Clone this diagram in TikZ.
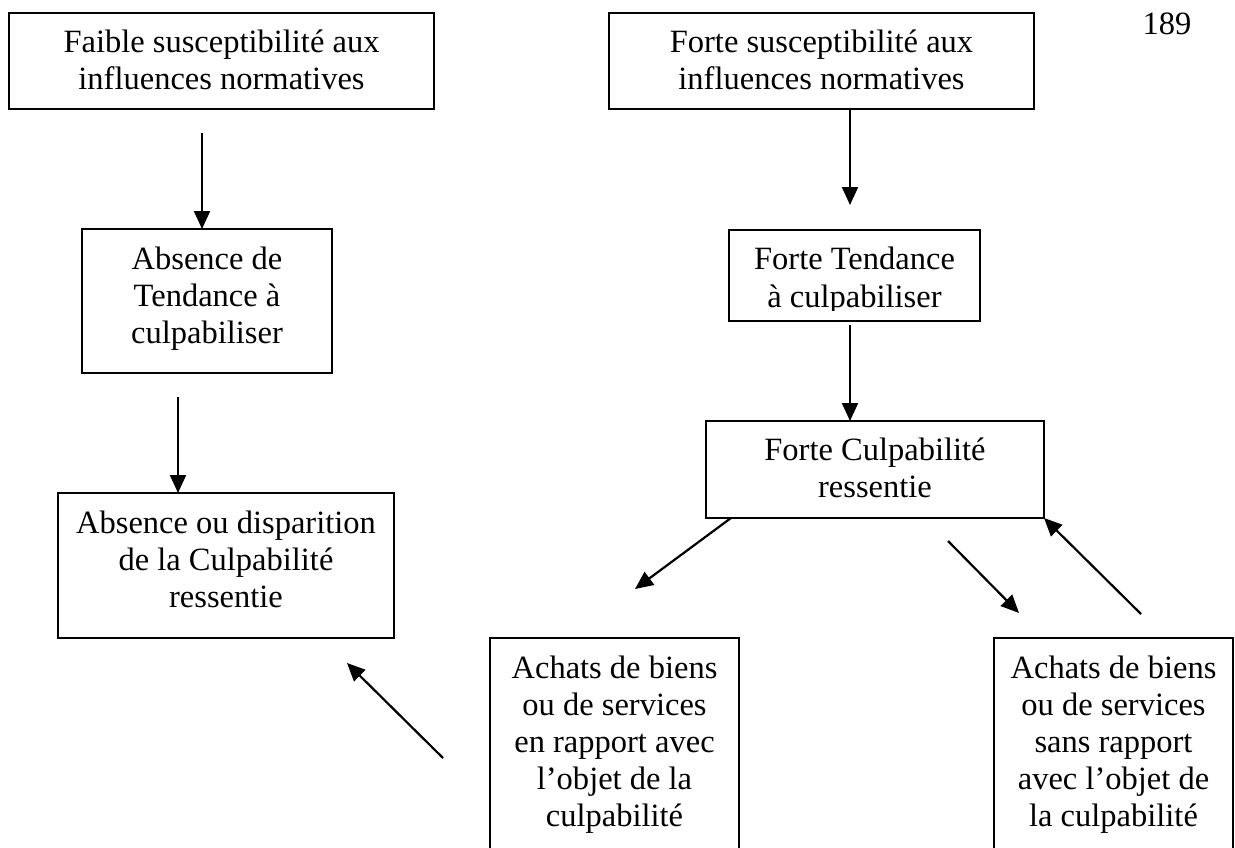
\documentclass[tikz,border=0pt]{standalone}
\usepackage{fontspec}
\setmainfont{Liberation Serif}
\usetikzlibrary{arrows.meta,fit}
\tikzset{
  boxnode/.style={draw, line width=0.85pt, inner sep=0pt, outer sep=0pt, rectangle},
  txt/.style={font=\fontsize{18.5pt}{21pt}\selectfont, inner sep=0pt, anchor=base},
  arr/.style={line width=1.25pt, -{Triangle[length=0.36cm,width=0.32cm]}}
}
\newcommand\boxtext[4]{%
  \foreach \ln [count=\i] in {#4} {\node[txt] (#1-\i) at (#2,{#3+(\i-1)*37}) {\ln};}%
}
\begin{document}
\begin{tikzpicture}[x=0.02cm,y=-0.02cm]
\useasboundingbox (0,0) rectangle (1235,848);
\clip (0,0) rectangle (1235,848);

% boxes
\node[boxnode, fit={(9,13) (434,109)}] (b1) {};
\node[boxnode, fit={(609,13) (1034,109)}] (b2) {};
\node[boxnode, fit={(82,229) (332,373)}] (b3) {};
\node[boxnode, fit={(729,230) (980,321)}] (b4) {};
\node[boxnode, fit={(706,421) (1044,518)}] (b5) {};
\node[boxnode, fit={(58,493) (394,638)}] (b6) {};
\node[boxnode, fit={(490,638) (739,900)}] (b7) {};
\node[boxnode, fit={(994,638) (1233,900)}] (b8) {};

% texts
\node[txt] (page) at (1167,35) {189};
\boxtext{t1}{221.5}{53}{Faible susceptibilité aux,influences normatives}
\boxtext{t2}{821.5}{53}{Forte susceptibilité aux,influences normatives}
\boxtext{t3}{207}{269}{Absence de,Tendance à,culpabiliser}
\begin{scope}
\clip (729,230) rectangle (980,310);
\boxtext{t4}{854.5}{270}{Forte Tendance,à culpabiliser}
\end{scope}
\boxtext{t5}{875}{460}{Forte Culpabilité,ressentie}
\boxtext{t6}{226}{533}{Absence ou disparition,de la Culpabilité,ressentie}
\boxtext{t7}{614.5}{678}{Achats de biens,ou de services,en rapport avec,l’objet de la,culpabilité}
\boxtext{t8}{1113.5}{678}{Achats de biens,ou de services,sans rapport,avec l’objet de,la culpabilité}

% connectors
\coordinate (pA) at (202,133);
\draw[arr] (pA) -- (pA |- b3.north);
\coordinate (pB) at (850,205);
\draw[arr] (b2.south -| pB) -- (pB);
\coordinate (pC) at (850,325);
\draw[arr] (pC) -- (pC |- b5.north);
\coordinate (pD) at (178,397);
\draw[arr] (pD) -- (pD |- b6.north);
\coordinate (pE0) at (731,518);
\coordinate (pE1) at (635,589);
\draw[arr] (pE0) -- (pE1);
\coordinate (pF0) at (948,541);
\coordinate (pF1) at (1019,613);
\draw[arr] (pF0) -- (pF1);
\coordinate (pG0) at (1141,614);
\draw[arr] (pG0) -- (b5.south east);
\coordinate (pH0) at (443,758);
\coordinate (pH1) at (347,663);
\draw[arr] (pH0) -- (pH1);
\end{tikzpicture}
\end{document}
